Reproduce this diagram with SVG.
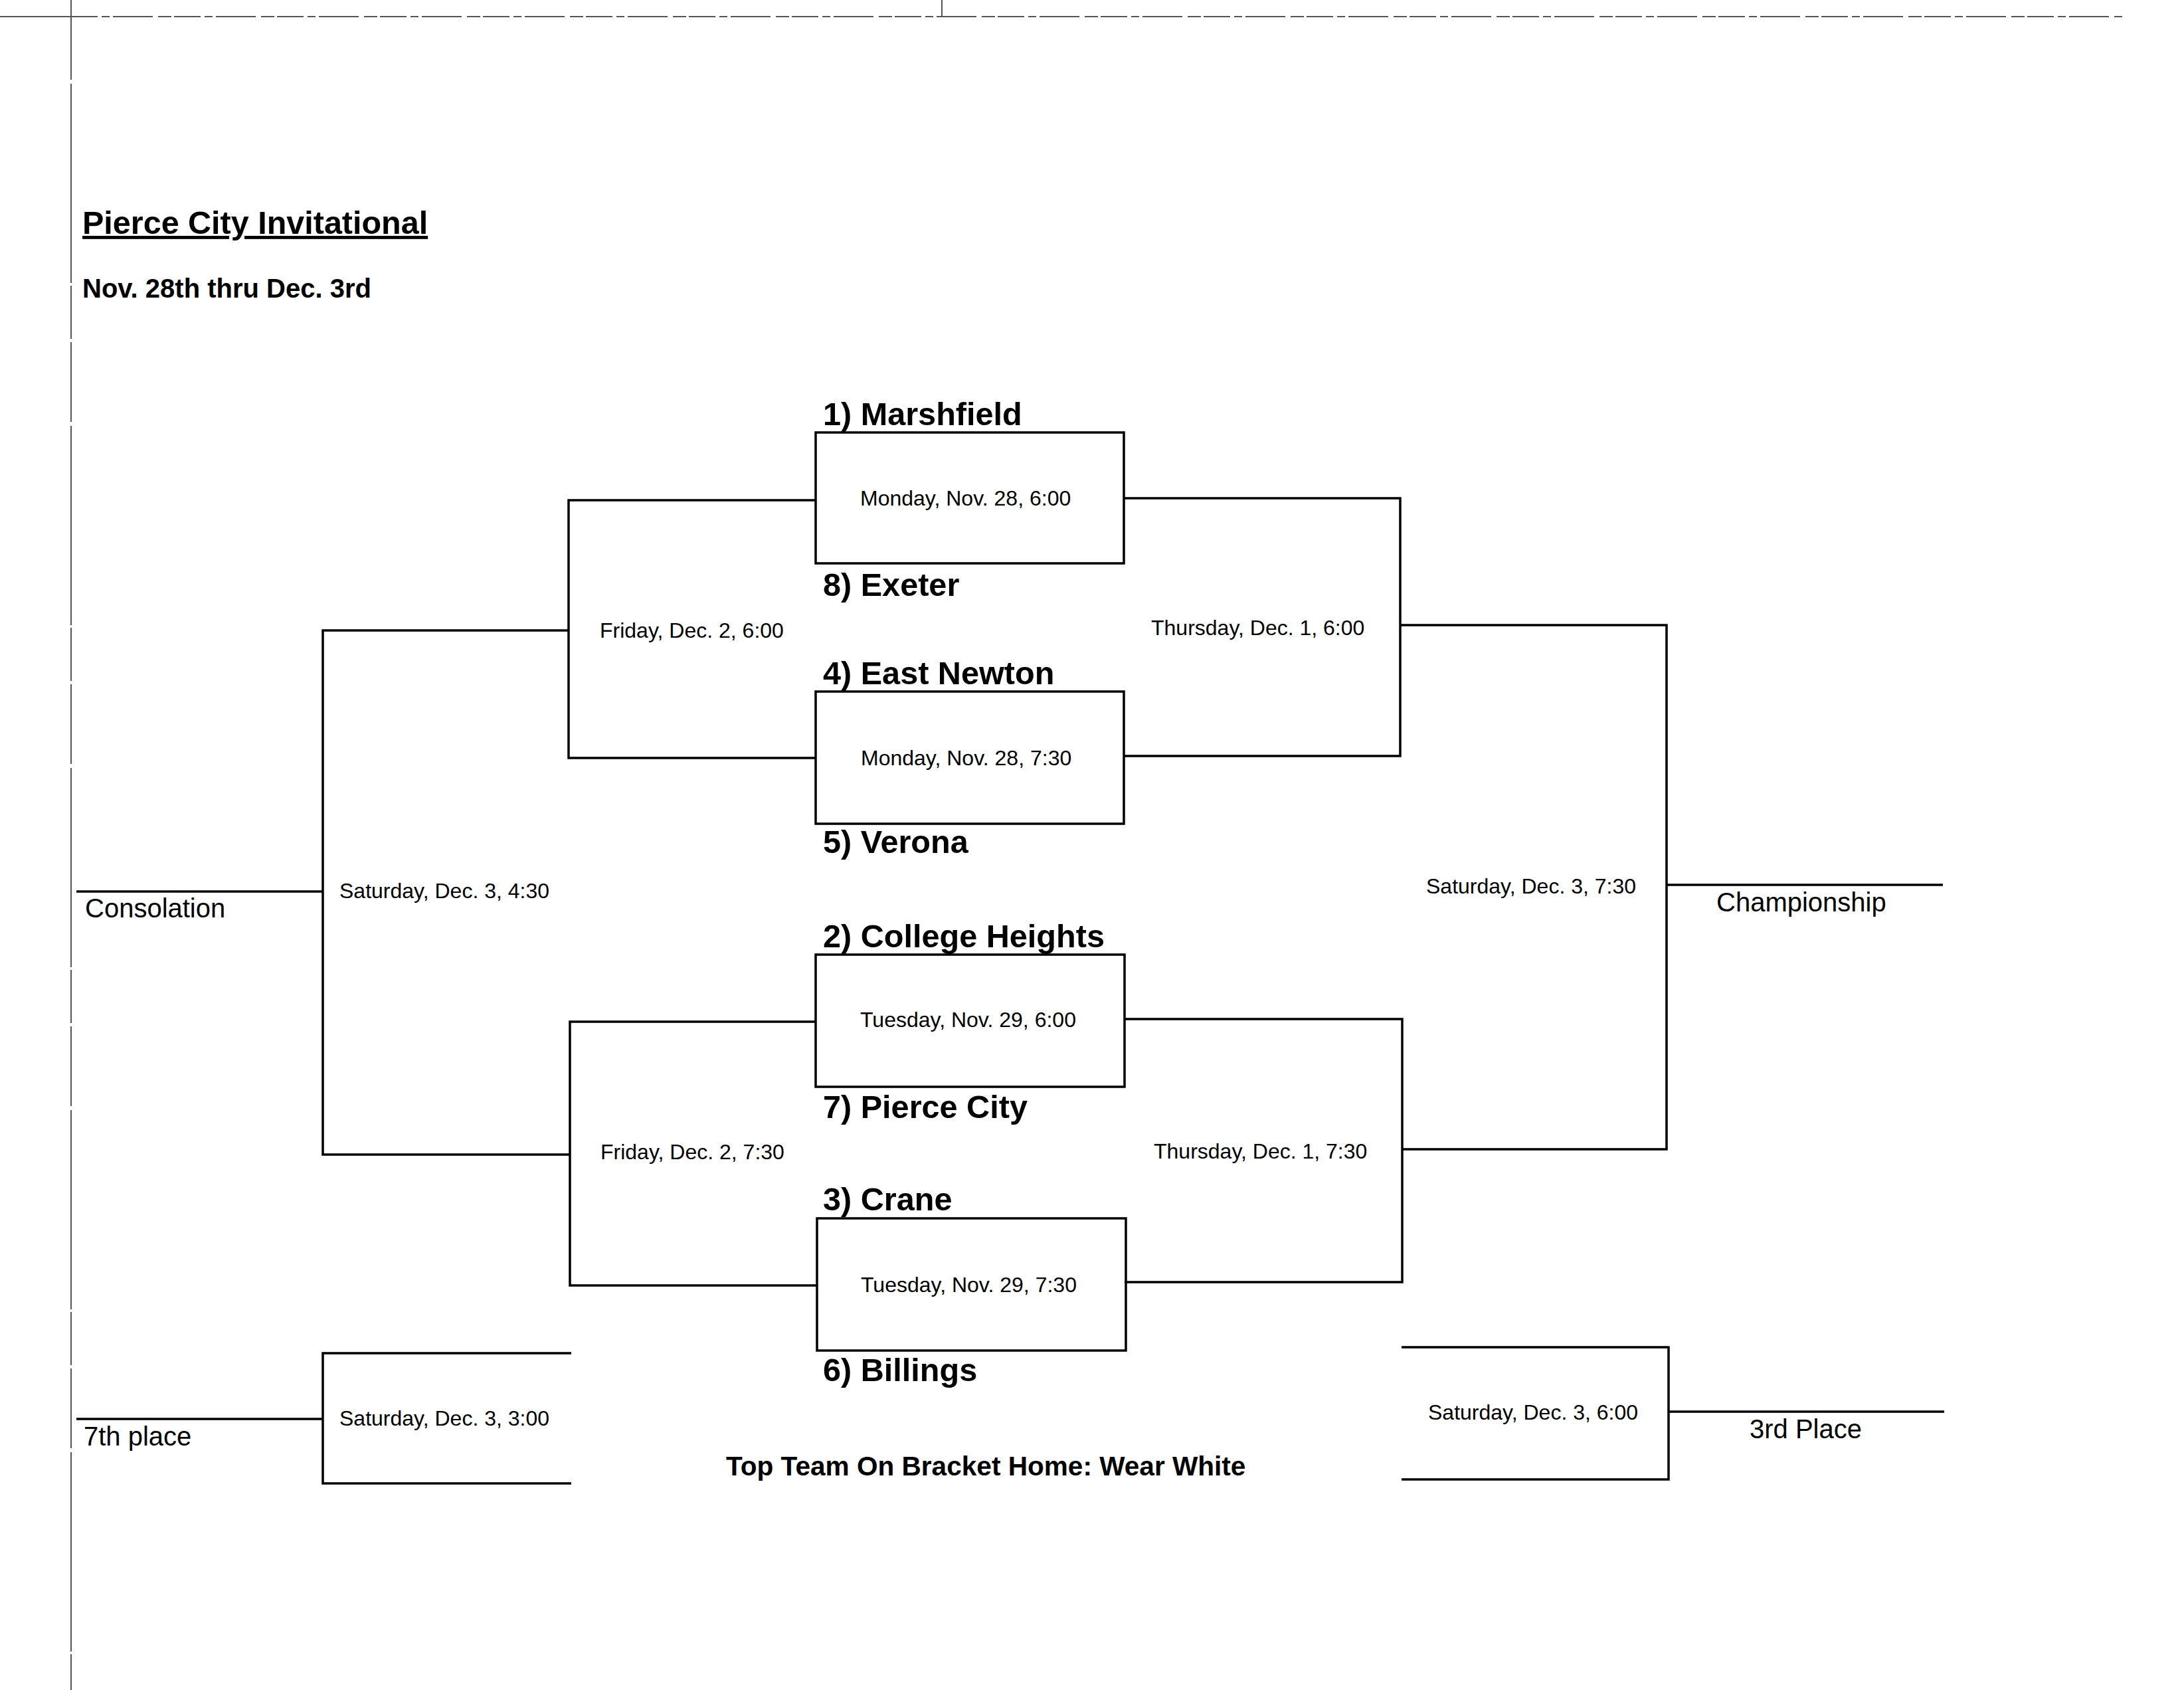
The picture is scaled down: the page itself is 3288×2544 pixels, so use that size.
<svg xmlns="http://www.w3.org/2000/svg" width="3288" height="2544" viewBox="0 0 3288 2544">
<style>
text{font-family:"Liberation Sans",Arial,sans-serif;fill:#000}
.title{font-size:48.5px;font-weight:bold;text-decoration:underline}
.sub{font-size:40px;font-weight:bold}
.note{font-size:40.6px;font-weight:bold}
.team{font-size:48.6px;font-weight:bold}
.date{font-size:32px}
.lbl{font-size:40px}
.box{fill:none;stroke:#000;stroke-width:3.5}
.wire{fill:none;stroke:#000;stroke-width:3.5}
.page{fill:none;stroke:#555;stroke-width:2}
</style>
<rect width="3288" height="2544" fill="#fff"/>
<g id="page-edges">
<line class="page" x1="0" y1="25" x2="107" y2="25" stroke-width="3"/>
<line class="page" x1="107" y1="25" x2="3195" y2="25" stroke-dasharray="40 6 12 5 60 8 20 4"/>
<line class="page" x1="107" y1="0" x2="107" y2="2544" stroke-dasharray="120 6 300 4 80 5"/>
<line class="page" x1="1418" y1="0" x2="1418" y2="25"/>
</g>
<g id="header">
<text class="title" x="124" y="352">Pierce City Invitational</text>
<text class="sub" x="124" y="448">Nov. 28th thru Dec. 3rd</text>
</g>
<g id="connectors">
<path class="wire" d="M1228,753 H856 V1141 H1228"/>
<path class="wire" d="M1229,1538 H858 V1935 H1229"/>
<path class="wire" d="M856,949 H486 V1738 H858"/>
<path class="wire" d="M115,1342 H486"/>
<path class="wire" d="M860,2037 H486 V2233 H860"/>
<path class="wire" d="M115,2136 H486"/>
<path class="wire" d="M1692,750 H2108 V1138 H1692"/>
<path class="wire" d="M1693,1534 H2111 V1930 H1693"/>
<path class="wire" d="M2108,941 H2509 V1730 H2111"/>
<path class="wire" d="M2509,1332 H2925"/>
<path class="wire" d="M2110,2028 H2512 V2227 H2110"/>
<path class="wire" d="M2512,2125 H2927"/>
</g>
<g id="game1">
<rect class="box" x="1228" y="651" width="464" height="197"/>
<text class="team" x="1239" y="640">1) Marshfield</text>
<text class="date" x="1295" y="761">Monday, Nov. 28, 6:00</text>
<text class="team" x="1239" y="897">8) Exeter</text>
</g>
<g id="game2">
<rect class="box" x="1228" y="1041" width="464" height="199"/>
<text class="team" x="1239" y="1030">4) East Newton</text>
<text class="date" x="1296" y="1152">Monday, Nov. 28, 7:30</text>
<text class="team" x="1239" y="1284">5) Verona</text>
</g>
<g id="game3">
<rect class="box" x="1228" y="1437" width="465" height="199"/>
<text class="team" x="1239" y="1426">2) College Heights</text>
<text class="date" x="1295" y="1546">Tuesday, Nov. 29, 6:00</text>
<text class="team" x="1239" y="1683">7) Pierce City</text>
</g>
<g id="game4">
<rect class="box" x="1230" y="1834" width="465" height="199"/>
<text class="team" x="1239" y="1822">3) Crane</text>
<text class="date" x="1296" y="1945">Tuesday, Nov. 29, 7:30</text>
<text class="team" x="1239" y="2079">6) Billings</text>
</g>
<g id="semi-consolation-1"><text class="date" x="903" y="960">Friday, Dec. 2, 6:00</text></g>
<g id="semi-consolation-2"><text class="date" x="904" y="1745">Friday, Dec. 2, 7:30</text></g>
<g id="consolation"><text class="date" x="511" y="1352">Saturday, Dec. 3, 4:30</text><text class="lbl" x="128" y="1381">Consolation</text></g>
<g id="seventh"><text class="date" x="511" y="2146">Saturday, Dec. 3, 3:00</text><text class="lbl" x="126" y="2176">7th place</text></g>
<g id="semi-1"><text class="date" x="1733" y="956">Thursday, Dec. 1, 6:00</text></g>
<g id="semi-2"><text class="date" x="1737" y="1744">Thursday, Dec. 1, 7:30</text></g>
<g id="championship"><text class="date" x="2147" y="1345">Saturday, Dec. 3, 7:30</text><text class="lbl" x="2584" y="1372">Championship</text></g>
<g id="third"><text class="date" x="2150" y="2137">Saturday, Dec. 3, 6:00</text><text class="lbl" x="2634" y="2165">3rd Place</text></g>
<g id="note"><text class="note" x="1093" y="2221">Top Team On Bracket Home: Wear White</text></g>
</svg>
